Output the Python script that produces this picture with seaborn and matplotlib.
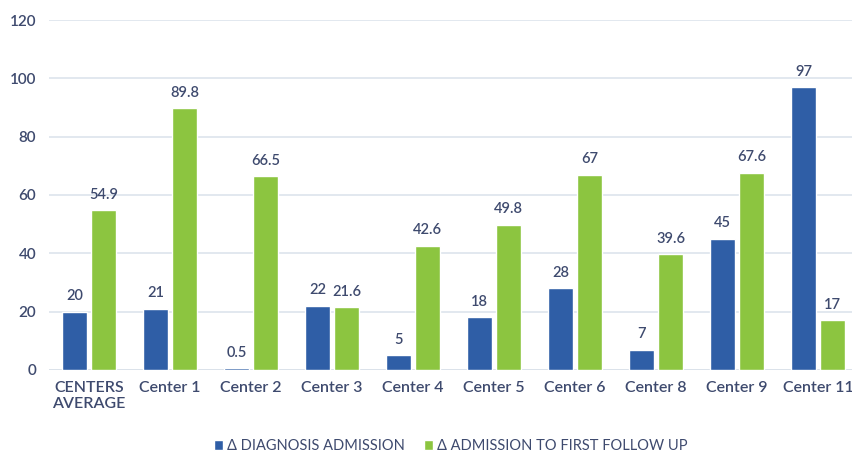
import matplotlib
matplotlib.use("Agg")
import matplotlib.pyplot as plt
import seaborn as sns
import pandas as pd

categories = ["CENTERS\nAVERAGE", "Center 1", "Center 2", "Center 3", "Center 4",
              "Center 5", "Center 6", "Center 8", "Center 9", "Center 11"]
diag_admission = [20, 21, 0.5, 22, 5, 18, 28, 7, 45, 97]
admission_followup = [54.9, 89.8, 66.5, 21.6, 42.6, 49.8, 67, 39.6, 67.6, 17]
series_names = ["\u0394 DIAGNOSIS ADMISSION", "\u0394 ADMISSION TO FIRST FOLLOW UP"]
diag_labels = ["20", "21", "0.5", "22", "5", "18", "28", "7", "45", "97"]
follow_labels = ["54.9", "89.8", "66.5", "21.6", "42.6", "49.8", "67", "39.6", "67.6", "17"]

df = pd.DataFrame({
    "cat": categories * 2,
    "value": diag_admission + admission_followup,
    "series": [series_names[0]] * len(categories) + [series_names[1]] * len(categories),
})

sns.set_theme(style="white")
plt.rcParams["font.family"] = ["Lato", "DejaVu Sans"]

text_color = "#3E4A6E"
fig = plt.figure(figsize=(8.53, 4.55), dpi=100)
ax = fig.add_axes([0.057, 0.187, 0.943, 0.769])

palette = {series_names[0]: "#2F5EA6", series_names[1]: "#8CC540"}
sns.barplot(data=df, x="cat", y="value", hue="series", palette=palette,
            width=0.71, gap=0.12, ax=ax, saturation=1, legend=True)

ax.set_ylim(0, 120)
ax.set_xlim(-0.5, 9.43)
ax.set_yticks(range(0, 121, 20))
ax.yaxis.grid(True, color="#DDE4EC", linewidth=1.2)
ax.set_axisbelow(True)
for s in ax.spines.values():
    s.set_visible(False)
ax.axhline(0, color="#D0D8E2", linewidth=1.2, zorder=0.5)
ax.set_xlabel("")
ax.set_ylabel("")
ax.tick_params(axis="both", length=0, colors=text_color)
ax.tick_params(axis="y", labelsize=11, pad=9)
ax.tick_params(axis="x", labelsize=11.5, pad=8)
for lbl in ax.get_yticklabels() + ax.get_xticklabels():
    lbl.set_fontweight("semibold")
    lbl.set_color(text_color)

for container, labels in zip(ax.containers, [diag_labels, follow_labels]):
    ax.bar_label(container, labels=labels, padding=6, fontsize=10.5,
                 color=text_color, fontweight="semibold")

leg = ax.legend(loc="upper center", bbox_to_anchor=(0.5, -0.16), ncol=2,
                frameon=False, fontsize=10.5, handlelength=0.6, handleheight=0.6,
                handletextpad=0.3, columnspacing=1.3)
for t in leg.get_texts():
    t.set_color(text_color)

fig.savefig("out.png", dpi=100)
